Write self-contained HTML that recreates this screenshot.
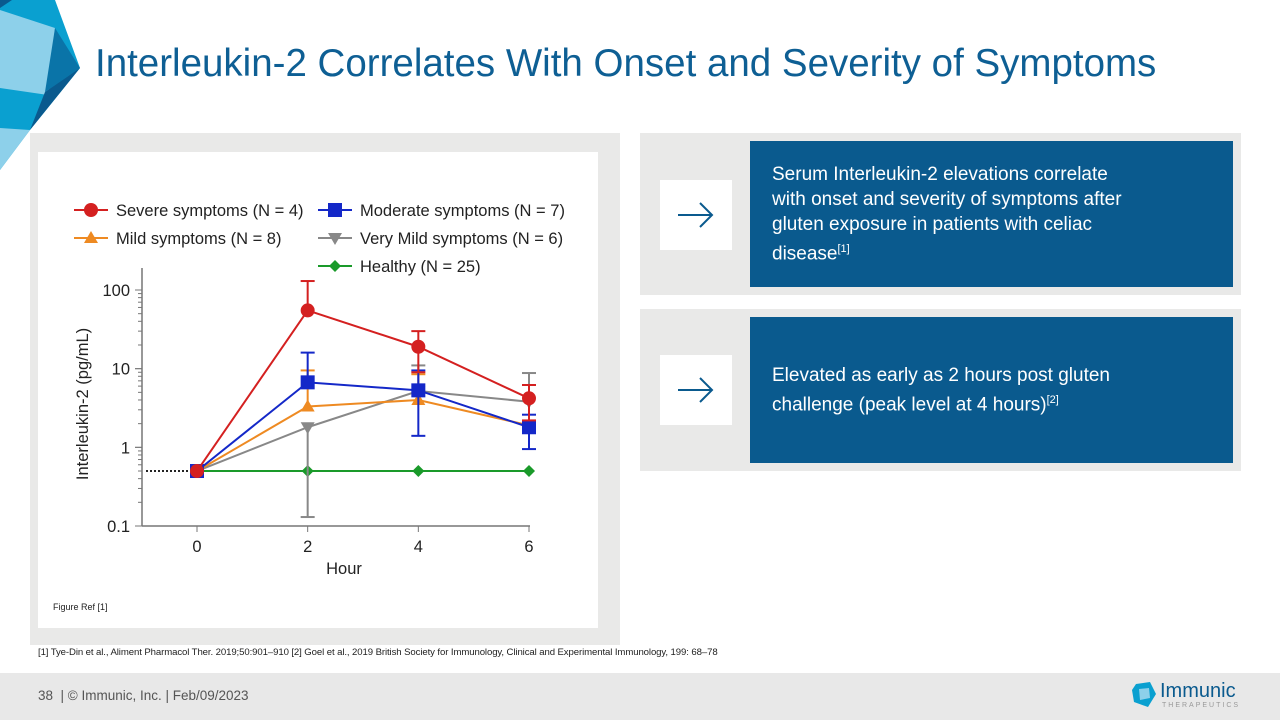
<!DOCTYPE html>
<html><head><meta charset="utf-8"><style>
body{margin:0;width:1280px;height:720px;position:relative;overflow:hidden;background:#fff;font-family:"Liberation Sans",sans-serif}
.abs{position:absolute}
.title{left:95px;top:42px;font-size:38.5px;color:#0e5f94;white-space:nowrap}
.panel{background:#e9e9e8}
.blue{background:#0a5a8e;color:#fff;font-size:19px;line-height:25px;padding:0 20px 0 22px;box-sizing:border-box;display:flex;align-items:center;white-space:nowrap}
.icon{background:#fff;width:72px;height:70px}
sup{font-size:11px}
</style></head><body>
<svg class="abs" style="left:0;top:0" width="90" height="170">
<polygon points="0,0 55,0 80,68 30,130 0,170" fill="#0aa0d0"/>
<polygon points="0,10 55,28 48,95 0,88" fill="#8dd0ea"/>
<polygon points="55,28 80,68 45,92" fill="#0a74a8"/>
<polygon points="80,68 30,130 45,92" fill="#0a5a8e"/>
<polygon points="0,128 30,130 0,170" fill="#8dd0ea"/>
<polygon points="0,0 12,0 0,8" fill="#0a5a8e"/>
</svg>
<div class="abs title">Interleukin-2 Correlates With Onset and Severity of Symptoms</div>
<div class="abs panel" style="left:30px;top:133px;width:590px;height:512px"></div>
<div class="abs" style="left:38px;top:152px;width:560px;height:476px;background:#fff"></div>
<svg id="chart" class="abs" style="left:38px;top:152px" width="560" height="476"></svg>
<div class="abs" style="left:53px;top:602px;font-size:9px;color:#222">Figure Ref [1]</div>
<div class="abs" style="left:38px;top:647px;font-size:9.6px;color:#222;white-space:nowrap;letter-spacing:-0.1px">[1] Tye-Din et al., Aliment Pharmacol Ther. 2019;50:901–910 [2] Goel et al., 2019 British Society for Immunology, Clinical and Experimental Immunology, 199: 68–78</div>

<div class="abs panel" style="left:640px;top:133px;width:601px;height:162px"></div>
<div class="abs icon" style="left:660px;top:180px"><svg width="72" height="70"><path d="M18 35H52M40 23L52 35L40 47" stroke="#0a5a8e" stroke-width="2" fill="none"/></svg></div>
<div class="abs blue" style="left:750px;top:141px;width:483px;height:146px"><div>Serum Interleukin-2 elevations correlate<br>with onset and severity of symptoms after<br>gluten exposure in patients with celiac<br>disease<sup>[1]</sup></div></div>
<div class="abs panel" style="left:640px;top:309px;width:601px;height:162px"></div>
<div class="abs icon" style="left:660px;top:355px"><svg width="72" height="70"><path d="M18 35H52M40 23L52 35L40 47" stroke="#0a5a8e" stroke-width="2" fill="none"/></svg></div>
<div class="abs blue" style="left:750px;top:317px;width:483px;height:146px"><div>Elevated as early as 2 hours post gluten<br>challenge (peak level at 4 hours)<sup>[2]</sup></div></div>

<div class="abs" style="left:0;top:673px;width:1280px;height:47px;background:#e8e8e8"></div>
<div class="abs" style="left:38px;top:688px;font-size:13.5px;color:#555">38 &nbsp;| © Immunic, Inc. | Feb/09/2023</div>
<svg class="abs" style="left:1130px;top:680px" width="28" height="30"><polygon points="6,4 20,2 26,14 18,27 4,22 2,10" fill="#0aa0d0"/><polygon points="9,9 19,8 20,18 10,20" fill="#8dd0ea"/></svg>
<div class="abs" style="left:1160px;top:680px;font-size:20px;color:#0a5a8e">Immunic</div>
<div class="abs" style="left:1162px;top:702px;font-size:7px;letter-spacing:2px;color:#999">THERAPEUTICS</div>

<script>
const hours=[0,2,4,6];
const severe=[0.5,55,19,4.2], severeHi=[0.5,130,30,6.2], severeLo=[0.5,55,9,2.2];
const moderate=[0.5,6.7,5.3,1.8], moderateHi=[0.5,16,9.5,2.6], moderateLo=[0.5,6.7,1.4,0.95];
const mild=[0.5,3.3,4.0,1.9], mildHi=[0.5,9.5,8.5,1.9], mildLo=[0.5,3.3,4.0,1.9];
const veryMild=[0.5,1.8,5.2,3.8], veryMildHi=[0.5,1.8,11,8.8], veryMildLo=[0.5,0.13,5.2,3.8];
const healthy=[0.5,0.5,0.5,0.5];
const yTicks=[100,10,1,0.1], yTickLabels=["100","10","1","0.1"];
const xTickLabels=["0","2","4","6"];
const NS="http://www.w3.org/2000/svg",svg=document.getElementById('chart');
const X=h=>159+h*(491-159)/6;
const Y=v=>374-Math.log10(v/0.1)*(374-138)/3;
function el(t,a,p){const e=document.createElementNS(NS,t);for(const k in a)e.setAttribute(k,a[k]);(p||svg).appendChild(e);return e;}
const ax=el('g',{});


el('line',{x1:104,y1:116,x2:104,y2:374,stroke:'#777','stroke-width':1.5},ax);
el('line',{x1:104,y1:374,x2:492,y2:374,stroke:'#777','stroke-width':1.5},ax);
yTicks.forEach((v,i)=>{
 for(let m=1;m<10&&i<3;m++){const y=Y(v/10*m);el('line',{x1:104,y1:y,x2:m==1?97:100,y2:y,stroke:'#777'},ax);}
 el('line',{x1:97,y1:Y(v),x2:104,y2:Y(v),stroke:'#777'},ax);
 const t=el('text',{x:92,y:Y(v)+6,'text-anchor':'end','font-size':16.5,fill:'#222'},ax);t.textContent=yTickLabels[i];
 
 
});
hours.forEach((h,i)=>{el('line',{x1:X(h),y1:374,x2:X(h),y2:380,stroke:'#777'},ax);
 const t=el('text',{x:X(h),y:400,'text-anchor':'middle','font-size':16.5,fill:'#222'},ax);t.textContent=xTickLabels[i];
 
 });
let t=el('text',{x:306,y:422,'text-anchor':'middle','font-size':16.5,fill:'#222'});t.textContent='Hour';


t=el('text',{x:0,y:0,'text-anchor':'middle','font-size':16.5,fill:'#222',transform:'translate(50,252) rotate(-90)'});t.textContent='Interleukin-2 (pg/mL)';


el('line',{x1:108,y1:Y(0.5),x2:159,y2:Y(0.5),stroke:'#222','stroke-width':2,'stroke-dasharray':'2,2'});
function marker(g,shape,x,y,c){
 if(shape=='circle')el('circle',{cx:x,cy:y,r:7,fill:c},g);
 else if(shape=='square')el('rect',{x:x-7,y:y-7,width:14,height:14,fill:c},g);
 else if(shape=='up')el('polygon',{points:`${x},${y-7} ${x+7},${y+5} ${x-7},${y+5}`,fill:c},g);
 else if(shape=='down')el('polygon',{points:`${x},${y+7} ${x+7},${y-5} ${x-7},${y-5}`,fill:c},g);
 else el('polygon',{points:`${x},${y-6} ${x+6},${y} ${x},${y+6} ${x-6},${y}`,fill:c},g);
}
const series=[
 ['healthy',healthy,healthy,healthy,'#1a9a2a','diamond'],
 ['very-mild',veryMild,veryMildHi,veryMildLo,'#888','down'],
 ['mild',mild,mildHi,mildLo,'#ee8a22','up'],
 ['moderate',moderate,moderateHi,moderateLo,'#1428c8','square'],
 ['severe',severe,severeHi,severeLo,'#d42020','circle']];
series.forEach(([n,v,hi,lo,c,sh])=>{
 const g=el('g',{});
 
 
 hours.forEach((h,i)=>{
  if(hi[i]!==v[i]){el('line',{x1:X(h),y1:Y(v[i]),x2:X(h),y2:Y(hi[i]),stroke:c,'stroke-width':2},g);el('line',{x1:X(h)-7,y1:Y(hi[i]),x2:X(h)+7,y2:Y(hi[i]),stroke:c,'stroke-width':2},g);}
  if(lo[i]!==v[i]){el('line',{x1:X(h),y1:Y(v[i]),x2:X(h),y2:Y(lo[i]),stroke:c,'stroke-width':2},g);el('line',{x1:X(h)-7,y1:Y(lo[i]),x2:X(h)+7,y2:Y(lo[i]),stroke:c,'stroke-width':2},g);}
 });
 el('polyline',{points:hours.map((h,i)=>X(h)+','+Y(v[i])).join(' '),fill:'none',stroke:c,'stroke-width':2},g);
 hours.forEach((h,i)=>marker(g,sh,X(h),Y(v[i]),c));
});
const leg=[['Severe symptoms (N = 4)','#d42020','circle',40,58],['Moderate symptoms (N = 7)','#1428c8','square',284,58],
 ['Mild symptoms (N = 8)','#ee8a22','up',40,86],['Very Mild symptoms (N = 6)','#888','down',284,86],['Healthy (N = 25)','#1a9a2a','diamond',284,114]];
leg.forEach(([txt,c,sh,x,y])=>{const g=el('g',{});
 
 
 el('line',{x1:x-4,y1:y,x2:x+30,y2:y,stroke:c,'stroke-width':2},g);marker(g,sh,x+13,y,c);
 const tt=el('text',{x:x+38,y:y+6,'font-size':16.5,fill:'#222'},g);tt.textContent=txt;});
</script>
</body></html>
